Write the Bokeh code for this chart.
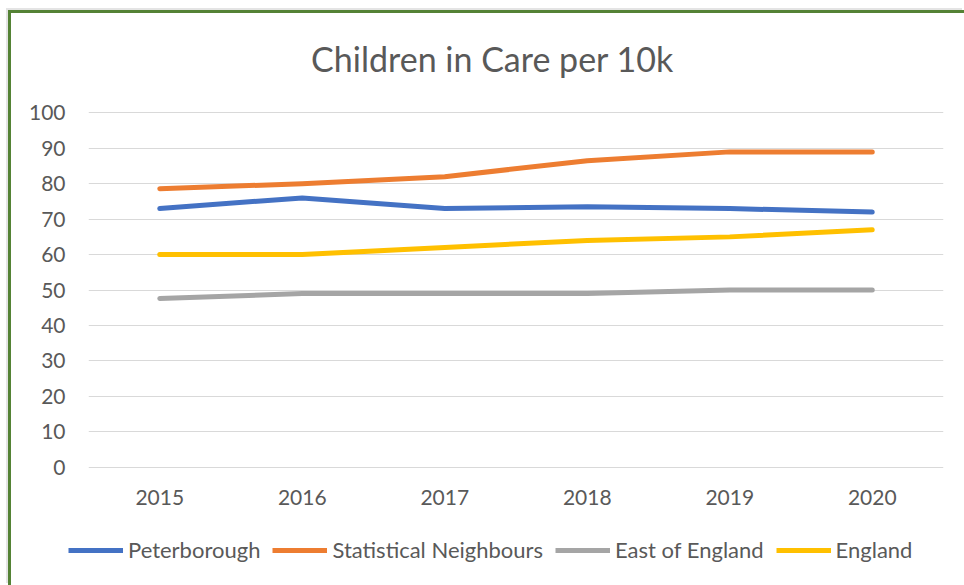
from bokeh.plotting import figure
from bokeh.models import ColumnDataSource, Legend, LegendItem, FixedTicker, Label
from bokeh.layouts import column
from bokeh.embed import file_html
from bokeh.resources import INLINE

years = ["2015", "2016", "2017", "2018", "2019", "2020"]
peterborough = [73, 76, 73, 73.5, 73, 72]
stat_neighbours = [78.6, 80, 82, 86.5, 89, 89]
east_of_england = [47.6, 49, 49, 49, 50, 50]
england = [60, 60, 62, 64, 65, 67]
y_ticks = [0, 10, 20, 30, 40, 50, 60, 70, 80, 90, 100]

series = [
    ("Peterborough", peterborough, "#4472C4"),
    ("Statistical Neighbours", stat_neighbours, "#ED7D31"),
    ("East of England", east_of_england, "#A5A5A5"),
    ("England", england, "#FFC000"),
]

FONT = "Lato"
TXT = "#595959"
W = 953

def blank(h):
    f = figure(width=W, height=h, x_range=years, y_range=(0, 100),
               output_backend="svg", toolbar_location=None,
               x_axis_location=None, y_axis_location=None, min_border=0)
    f.outline_line_color = None
    f.grid.grid_line_color = None
    f.background_fill_color = "white"
    f.border_fill_color = "white"
    return f

# title strip
t = blank(86)
aligned_off = 0
if "frame_align" in t.properties():
    t.frame_align = False
else:
    aligned_off = 77
t.add_layout(Label(x=481 - aligned_off, y=41, x_units="screen", y_units="screen",
                   text="Children in Care per 10k", text_font=FONT,
                   text_font_size="34px", text_color=TXT,
                   text_align="center", text_baseline="middle"))

# main chart
p = figure(x_range=years, y_range=(-0.4, 100.4), width=W, height=419,
           output_backend="svg", toolbar_location=None,
           min_border_left=77, min_border_right=21, min_border_top=12, min_border_bottom=50)
p.outline_line_color = None
p.background_fill_color = "white"
p.border_fill_color = "white"
p.xgrid.grid_line_color = None
p.ygrid.grid_line_color = "#D9D9D9"
p.ygrid.grid_line_width = 1
p.yaxis.ticker = FixedTicker(ticks=y_ticks)
for ax in (p.xaxis, p.yaxis):
    ax.axis_line_color = None
    ax.major_tick_line_color = None
    ax.minor_tick_line_color = None
    ax.major_tick_out = 0
    ax.major_tick_in = 0
    ax.major_label_text_font = FONT
    ax.major_label_text_font_size = "21px"
    ax.major_label_text_color = TXT
p.yaxis.major_label_standoff = 23
p.xaxis.major_label_standoff = 21

for name, vals, col in series:
    src = ColumnDataSource(dict(x=years, y=vals))
    p.line("x", "y", source=src, line_color=col, line_width=5,
           line_cap="round", line_join="round")

# legend strip
lg = blank(67)
lg_off = 0
if "frame_align" in lg.properties():
    lg.frame_align = False
else:
    lg_off = 78
items = []
for name, vals, col in series:
    src = ColumnDataSource(dict(x=years, y=vals))
    r = lg.line("x", "y", source=src, line_color=col, line_width=5, visible=False)
    items.append(LegendItem(label=name, renderers=[r]))
legend = Legend(items=items, orientation="horizontal", location=(57 - lg_off, 22),
                label_text_font=FONT, label_text_font_size="22px",
                label_text_color=TXT, glyph_width=55, glyph_height=24,
                label_standoff=5, spacing=12, padding=0, margin=0,
                inactive_fill_alpha=0,
                border_line_color=None, background_fill_alpha=0)
lg.add_layout(legend)

layout = column(t, p, lg, spacing=0)
layout.styles = {"border-left": "3px solid #548235", "border-top": "3px solid #548235",
                 "margin-left": "8px", "margin-top": "10px",
                 "box-shadow": "-2px -2px 0 0 #E4E4E4"}

open("out.html", "w").write(file_html(layout, INLINE))
